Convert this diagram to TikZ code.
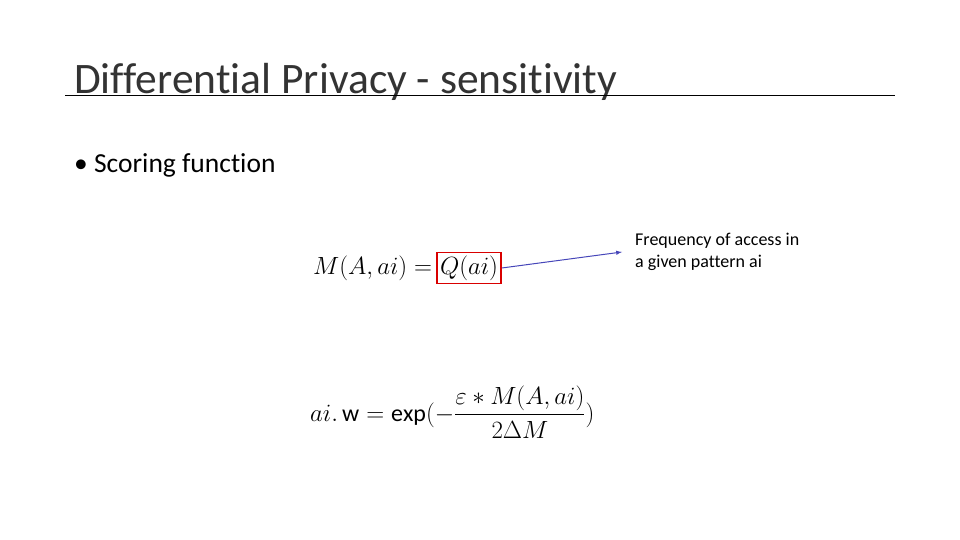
\documentclass[tikz,border=0pt]{standalone}
\usepackage{amsmath}
\usepackage{fontspec}
\setmainfont[Ligatures={NoCommon}]{Carlito}
\begin{document}
\begin{tikzpicture}[x=1pt,y=-1pt,
  ttl/.style={anchor=base west,inner sep=0pt,font=\fontsize{43.5}{50}\selectfont,text=black!80},
  body/.style={anchor=base west,inner sep=0pt,font=\fontsize{27.5}{32}\selectfont},
  eq/.style={inner sep=0pt,font=\fontsize{28}{32}\selectfont},
  note/.style={anchor=north west,inner sep=0pt,font=\fontsize{18}{22}\selectfont,align=left}]
\useasboundingbox (0,0) rectangle (960,540);
\node[ttl] (title) at (74,94) {Differential Privacy - sensitivity};
\coordinate (l1) at (65,95.5); \coordinate (l2) at (895,95.5);
\draw[line width=0.8pt] (l1) -- (l2);
\node[body] (b) at (74,172) {\textbullet\ Scoring function};
\node[eq,anchor=west] (m) at (313,268) {$M(A,ai)=$};
\node[eq,anchor=west,draw=red!85!black,line width=1.5pt,inner sep=3pt] (q) at ([xshift=4pt]m.east) {$Q(ai)$};
\node[note] (n) at (635,233) {Frequency of access in\\a given pattern ai};
\coordinate (tip) at (622,252);
\draw[-latex,draw=blue!45!gray,line width=1pt] (q.east) -- (tip);
\node[eq,anchor=west,font=\fontsize{24}{28}\selectfont] (w) at (310,412) {$ai.\,\mathrm{w}=\exp(-\dfrac{\varepsilon * M(A,ai)}{2\Delta M})$};
\end{tikzpicture}
\end{document}
